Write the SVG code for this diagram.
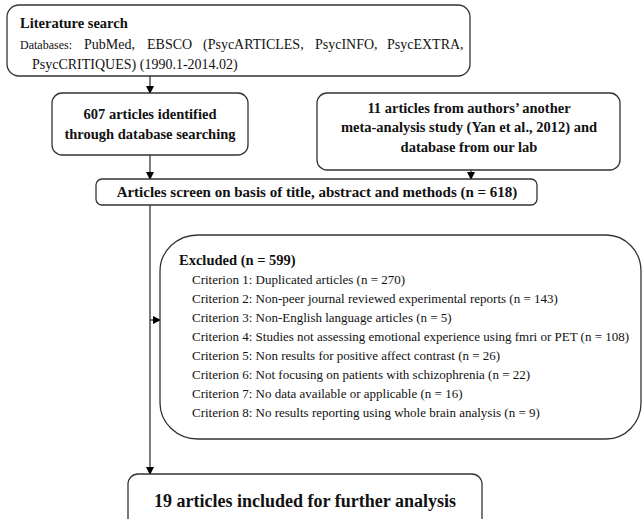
<svg xmlns="http://www.w3.org/2000/svg" width="642" height="519" viewBox="0 0 642 519" font-family="'Liberation Serif', 'DejaVu Serif', serif">
<defs>
<marker id="ah" markerWidth="8" markerHeight="8" refX="7" refY="4" orient="auto" markerUnits="userSpaceOnUse">
<path d="M0,0 L8,4 L0,8 Z" fill="#000"/>
</marker>
<style>
.box{fill:#fff;stroke:#333;stroke-width:1.3}
.t{font-family:'Liberation Serif','DejaVu Serif',serif;fill:#111}
.b{font-weight:bold}
.c{font-size:13px}
.line{stroke:#111;stroke-width:1.1;fill:none}
</style>
</defs>
<rect width="642" height="519" fill="#fff"/>
<g id="connectors">
<line class="line" x1="150" y1="76" x2="150" y2="93" marker-end="url(#ah)"/>
<line class="line" x1="150" y1="155" x2="150" y2="179" marker-end="url(#ah)"/>
<line class="line" x1="471" y1="170" x2="471" y2="179" marker-end="url(#ah)"/>
<line class="line" x1="150" y1="205" x2="150" y2="474" marker-end="url(#ah)"/>
<line class="line" x1="150" y1="320" x2="160" y2="320" marker-end="url(#ah)"/>
</g>
<g id="literature-search">
<rect class="box" x="7" y="5" width="463" height="71" rx="12"/>
<text class="t b" x="20" y="28" font-size="14.5">Literature search</text>
<text class="t" y="49" font-size="14"><tspan x="20" font-size="12">Databases:</tspan><tspan x="84">PubMed,</tspan><tspan x="147">EBSCO</tspan><tspan x="203">(PsycARTICLES,</tspan><tspan x="315">PsycINFO,</tspan><tspan x="387">PsycEXTRA,</tspan></text>
<text class="t" x="32" y="69" font-size="14">PsycCRITIQUES) (1990.1-2014.02)</text>
</g>
<g id="db-search">
<rect class="box" x="52" y="93" width="196" height="62" rx="10"/>
<text class="t b" x="150" y="119" font-size="14.5" text-anchor="middle">607 articles identified</text>
<text class="t b" x="150" y="139" font-size="14.5" text-anchor="middle">through database searching</text>
</g>
<g id="other-sources">
<rect class="box" x="317" y="93" width="303" height="77" rx="10"/>
<text class="t b" x="469" y="113" font-size="14.5" text-anchor="middle">11 articles from authors’ another</text>
<text class="t b" x="469" y="132" font-size="14.5" text-anchor="middle">meta-analysis study (Yan et al., 2012) and</text>
<text class="t b" x="469" y="152" font-size="14.5" text-anchor="middle">database from our lab</text>
</g>
<g id="screen">
<rect class="box" x="96" y="179" width="441" height="26" rx="6"/>
<text class="t b" x="317" y="197" font-size="15" text-anchor="middle">Articles screen on basis of title, abstract and methods (n = 618)</text>
</g>
<g id="excluded">
<path class="box" d="M198,235 H606 A35,36 0 0 1 641,271 V403 A35,36 0 0 1 606,439 H198 A38,36 0 0 1 160,403 V271 A38,36 0 0 1 198,235 Z"/>
<text class="t b" x="179" y="265" font-size="14.5">Excluded (n = 599)</text>
<text class="t c" x="192" y="284">Criterion 1: Duplicated articles (n = 270)</text>
<text class="t c" x="192" y="303">Criterion 2: Non-peer journal reviewed experimental reports (n = 143)</text>
<text class="t c" x="192" y="322">Criterion 3: Non-English language articles (n = 5)</text>
<text class="t c" x="192" y="341">Criterion 4: Studies not assessing emotional experience using fmri or PET (n = 108)</text>
<text class="t c" x="192" y="360">Criterion 5: Non results for positive affect contrast (n = 26)</text>
<text class="t c" x="192" y="379">Criterion 6: Not focusing on patients with schizophrenia (n = 22)</text>
<text class="t c" x="192" y="398">Criterion 7: No data available or applicable (n = 16)</text>
<text class="t c" x="192" y="417">Criterion 8: No results reporting using whole brain analysis (n = 9)</text>
</g>
<g id="included">
<rect class="box" x="128" y="474" width="354" height="60" rx="10"/>
<text class="t b" x="305" y="507" font-size="18" text-anchor="middle">19 articles included for further analysis</text>
</g>
</svg>
